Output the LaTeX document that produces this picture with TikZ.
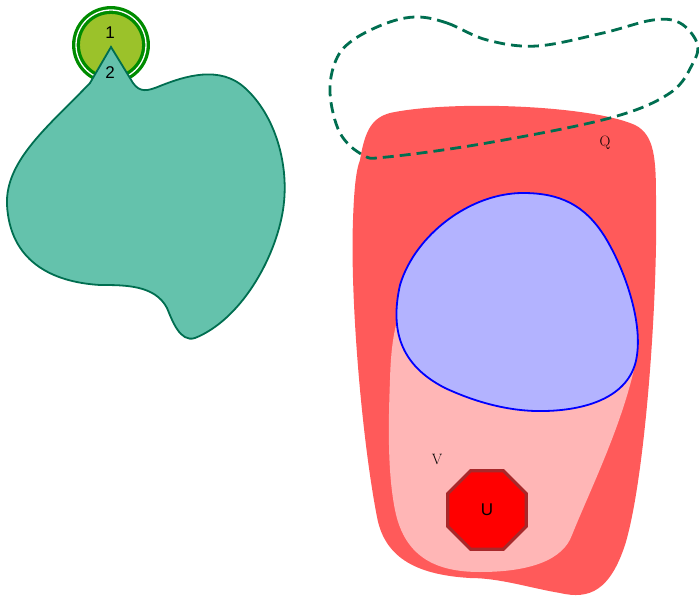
\documentclass[tikz,border=0pt]{standalone}
\usepackage{fontspec}
\usepackage{tikz}
\usetikzlibrary{shapes.geometric}
\newfontfamily\labelfont{Liberation Sans}
\definecolor{leaf}{HTML}{9BC22A}
\definecolor{ringgreen}{HTML}{008C00}
\definecolor{tealfill}{HTML}{64C2AC}
\definecolor{tealline}{HTML}{006E50}
\definecolor{outerred}{HTML}{FF5A5A}
\definecolor{innerpink}{HTML}{FFB6B6}
\definecolor{bluefill}{HTML}{B3B3FF}
\definecolor{stopedge}{HTML}{A8282A}

\begin{document}
\begin{tikzpicture}[x=1pt, y=-1pt,
    sanslabel/.style={font=\labelfont\fontsize{17}{17}\selectfont},
    seriflabel/.style={font=\fontsize{15}{15}\selectfont}]
    \useasboundingbox (0,0) rectangle (699,596);
    % right region
    \fill[outerred] (360,160) .. controls (365,130) and (372,118) .. (390,113)
        .. controls (450,100) and (590,105) .. (635,125)
        .. controls (655,135) and (656,160) .. (656,200)
        .. controls (658,300) and (645,480) .. (625,545)
        .. controls (610,590) and (590,600) .. (560,593)
        .. controls (530,588) and (500,578) .. (470,578)
        .. controls (420,575) and (385,560) .. (377,517)
        .. controls (362,440) and (350,300) .. (353,220)
        .. controls (354,190) and (356,170) .. (360,160) -- cycle;
    \fill[innerpink] (440,300) -- (405,300)
        .. controls (396,318) and (391,340) .. (390,380)
        .. controls (388,430) and (388,475) .. (395,510)
        .. controls (405,560) and (440,572) .. (480,572)
        .. controls (530,572) and (563,560) .. (572,535)
        .. controls (590,490) and (625,420) .. (637,355) -- (600,330) -- cycle;
    \draw[blue, line width=1.8pt, fill=bluefill] (523,193)
        .. controls (470,193) and (415,235) .. (400,285)
        .. controls (390,330) and (400,365) .. (445,388)
        .. controls (475,402) and (510,412) .. (545,411)
        .. controls (590,410) and (632,395) .. (637,355)
        .. controls (642,320) and (625,270) .. (605,237)
        .. controls (585,205) and (560,193) .. (523,193) -- cycle;
    \draw[tealline, line width=2.8pt, dash pattern=on 11pt off 6pt]
        plot[smooth cycle, tension=0.6] coordinates {(417,17) (447,23) (487,40) (537,46) (603,33) (653,20) (680,23) (697,43) (693,63) (670,93) (610,118) (487,143) (387,157) (363,155) (340,133) (330,93) (336,60) (353,40) (387,23)};
    % left region
    \node[circle, fill=leaf, draw=ringgreen, line width=3.3pt, double=white, double distance=1.3pt, minimum size=70pt, inner sep=0pt] (one) at (111,45) {};
    \node[sanslabel] (onetext) at (110,33) {1};
    \draw[tealline, line width=1.8pt, fill=tealfill] (111,47) -- (133,83)
        .. controls (140,93) and (148,91) .. (160,86)
        .. controls (185,76) and (220,65) .. (245,88)
        .. controls (275,115) and (290,165) .. (283,210)
        .. controls (275,260) and (240,320) .. (195,338)
        .. controls (180,343) and (172,320) .. (167,308)
        .. controls (155,285) and (125,285) .. (100,285)
        .. controls (50,282) and (10,260) .. (7,205)
        .. controls (5,160) and (50,125) .. (90,83) -- cycle;
    \node[sanslabel] (two) at (110,73) {2};
    % stop sign
    \node[regular polygon, regular polygon sides=8, fill=red, draw=stopedge, line width=3.2pt, minimum size=85pt, inner sep=0pt, sanslabel] (stop) at (487,510) {U};
    \node[seriflabel] (vee) at (437,459) {V};
    \node[seriflabel] (que) at (605,143) {Q};
\end{tikzpicture}
\end{document}
